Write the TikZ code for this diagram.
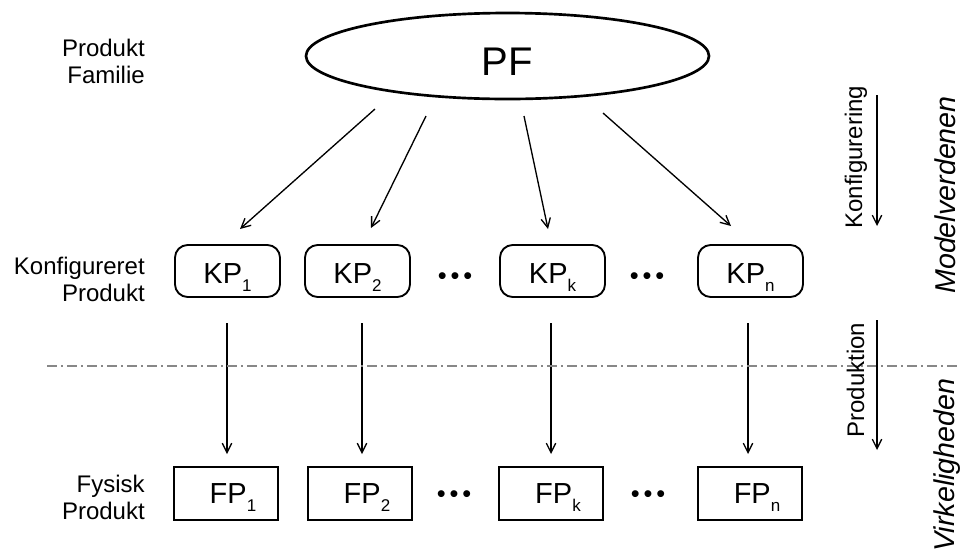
\documentclass[tikz,border=0pt]{standalone}
\usepackage{fontspec}
\setmainfont{Liberation Sans}
\usetikzlibrary{shapes.geometric,arrows.meta}

% lowered index after KP / FP
\newcommand\lowidx[1]{\raisebox{-5.5pt}{\fontsize{12.75pt}{12.75pt}\selectfont #1}}
% spaced row of three bullets
\newcommand\threedots{•\hspace{2.9pt}•\hspace{2.9pt}•}

\begin{document}
\begin{tikzpicture}[x=0.75pt,y=-0.75pt,
  sidelabel/.style={font=\fontsize{18pt}{20.25pt}\selectfont, align=right, anchor=east, inner sep=0pt},
  familyell/.style={draw, ellipse, line width=2pt, minimum width=302.25pt, minimum height=64.5pt,
    inner sep=0pt, font=\fontsize{30pt}{30pt}\selectfont, text height=29.7pt, text depth=0pt},
  kpbox/.style={draw, line width=1.4pt, rounded corners=9.5pt, minimum width=78.75pt, minimum height=39pt,
    inner sep=0pt, font=\fontsize{21.75pt}{24pt}\selectfont, text height=19.4pt, text depth=0pt},
  fpbox/.style={draw, line width=1.4pt, minimum width=78pt, minimum height=39.75pt,
    inner sep=0pt, font=\fontsize{21.75pt}{24pt}\selectfont, text height=15.6pt, text depth=0pt},
  etc/.style={inner sep=0pt, font=\fontsize{19pt}{19pt}\selectfont},
  arr/.style={line width=1pt, -{Straight Barb[length=7pt,width=7pt]}},
  steplabel/.style={rotate=90, anchor=base, inner sep=0pt, font=\fontsize{18pt}{18pt}\selectfont},
  worldlabel/.style={rotate=90, anchor=base, inner sep=0pt, font=\fontsize{21.5pt}{21.5pt}\selectfont\itshape},
  divider/.style={draw=black!47, line width=1.1pt, dash pattern=on 7.5pt off 3pt on 1.5pt off 3pt}
]
\useasboundingbox (0,0) rectangle (961,551);

% row labels
\node[sidelabel] (lpf) at (145,61)  {Produkt\\Familie};
\node[sidelabel] (lkp) at (145,279) {Konfigureret\\Produkt};
\node[sidelabel] (lfp) at (145,497) {Fysisk\\Produkt};

% product family
\node[familyell] (pf) at (507.5,56) {PF};

% configured products
\node[kpbox] (kp1) at (227.5,271) {KP\lowidx{1}};
\node[kpbox] (kp2) at (357.5,271) {KP\lowidx{2}};
\node[kpbox] (kpk) at (552.5,271) {KP\lowidx{k}};
\node[kpbox] (kpn) at (750.5,271) {KP\lowidx{n}};
\node[etc] (kdots1) at (455,279) {\threedots};
\node[etc] (kdots2) at (647,279) {\threedots};

% physical products
\node[fpbox] (fp1) at (226,493.5) {\hspace*{10.5pt}FP\lowidx{1}};
\node[fpbox] (fp2) at (360,493.5) {\hspace*{10.5pt}FP\lowidx{2}};
\node[fpbox] (fpk) at (551,493.5) {\hspace*{10.5pt}FP\lowidx{k}};
\node[fpbox] (fpn) at (750,493.5) {\hspace*{10.5pt}FP\lowidx{n}};
\node[etc] (fdots1) at (454,497) {\threedots};
\node[etc] (fdots2) at (648,497) {\threedots};

% configuration arrows
\coordinate (c1a) at (375,109);  \coordinate (c1b) at (240,229);
\coordinate (c2a) at (426,116);  \coordinate (c2b) at (371,228);
\coordinate (cka) at (524,116);  \coordinate (ckb) at (548,229);
\coordinate (cna) at (603,113);  \coordinate (cnb) at (731,226);
\draw[arr] (c1a) -- (c1b);
\draw[arr] (c2a) -- (c2b);
\draw[arr] (cka) -- (ckb);
\draw[arr] (cna) -- (cnb);

% production arrows
\coordinate (p1a) at (227,323);  \coordinate (p1b) at (227,454);
\coordinate (p2a) at (362,323);  \coordinate (p2b) at (362,454);
\coordinate (pka) at (551,323);  \coordinate (pkb) at (551,454);
\coordinate (pna) at (748,323);  \coordinate (pnb) at (748,454);
\draw[arr] (p1a) -- (p1b);
\draw[arr] (p2a) -- (p2b);
\draw[arr] (pka) -- (pkb);
\draw[arr] (pna) -- (pnb);

% border between model and reality
\coordinate (divl) at (47,366);
\coordinate (divr) at (961,366);
\draw[divider] (divl) -- (divr);

% process steps on the right
\node[steplabel] (konf) at (862,157) {Konfigurering};
\coordinate (konfa) at (877,95);  \coordinate (konfb) at (877,226);
\draw[arr] (konfa) -- (konfb);
\node[steplabel] (prod) at (864,380) {Produktion};
\coordinate (proda) at (877,320); \coordinate (prodb) at (877,450);
\draw[arr] (proda) -- (prodb);

% worlds
\node[worldlabel] (model) at (955,195) {Modelverdenen};
\node[worldlabel] (real) at (954,465) {Virkeligheden};
\end{tikzpicture}
\end{document}
